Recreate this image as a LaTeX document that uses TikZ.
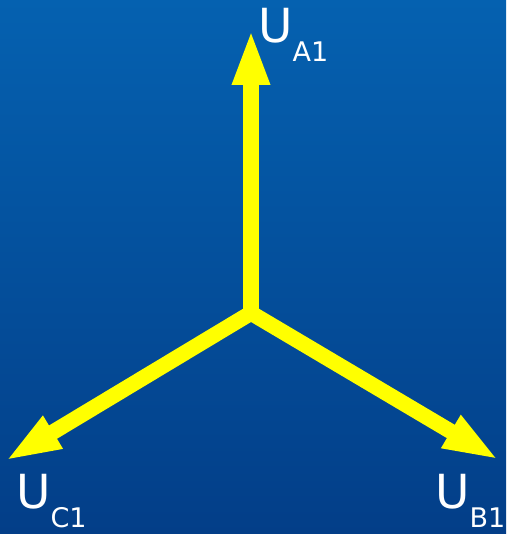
\documentclass[tikz,border=0pt]{standalone}
\usepackage{fontspec}
\setmainfont{DejaVu Sans}
\usetikzlibrary{arrows.meta}
\definecolor{bgtop}{RGB}{5,97,176}
\definecolor{bgbot}{RGB}{3,62,136}
\definecolor{vecyellow}{RGB}{255,255,0}
\tikzset{
  vec/.style={draw=vecyellow, line width=15.5pt, line cap=round,
    -{Triangle[length=56pt,width=34pt]}},
  lbl/.style={text=white, inner sep=0pt, anchor=base west,
    font=\fontsize{47}{47}\selectfont},
}
\newcommand{\subtxt}[1]{\raisebox{-19pt}{\fontsize{27}{27}\selectfont #1}}
\begin{document}
\begin{tikzpicture}[x=1pt,y=-1pt]
\useasboundingbox (0,0) rectangle (506,534);
\shade[top color=bgtop, bottom color=bgbot] (0,0) rectangle (506,534);
\coordinate (O) at (251,313);
\coordinate (A) at (251,29);
\coordinate (B) at (499,460);
\coordinate (C) at (5,461);
\draw[vec] (O) -- (A);
\draw[vec] (O) -- (B);
\draw[vec] (O) -- (C);
\node[lbl] (la) at (258,43) {U\subtxt{A1}};
\node[lbl] (lc) at (16,508) {U\subtxt{C1}};
\node[lbl] (lb) at (435,508) {U\subtxt{B1}};
\end{tikzpicture}
\end{document}
